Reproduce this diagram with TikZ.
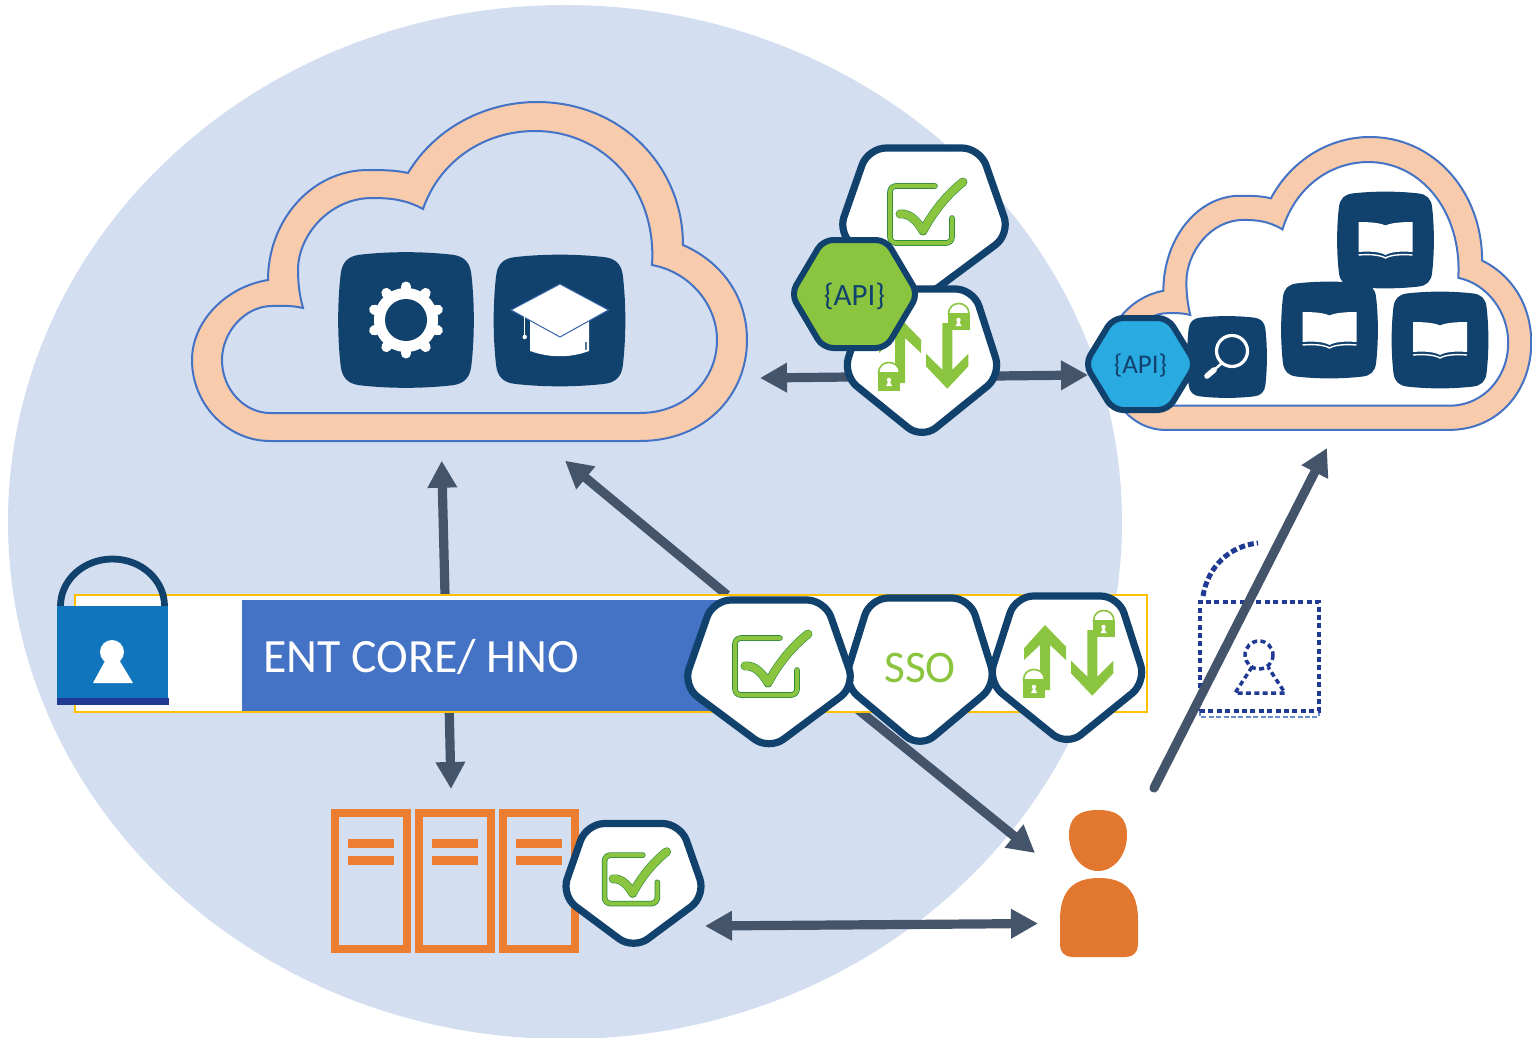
\documentclass[tikz,border=0pt]{standalone}
\usepackage{fontspec}
\setmainfont{Carlito}
\usetikzlibrary{arrows.meta,positioning}
\definecolor{discblue}{HTML}{D3DEF0}
\definecolor{navyline}{HTML}{11416D}
\definecolor{slateline}{HTML}{44546A}
\definecolor{bandpeach}{HTML}{F7CBAC}
\definecolor{bandblue}{HTML}{4472C4}
\definecolor{leafgreen}{HTML}{8BC53F}
\definecolor{leafdark}{HTML}{2E8B3E}
\definecolor{skyblue}{HTML}{29ABE2}
\definecolor{lockblue}{HTML}{1075BD}
\definecolor{deepblue}{HTML}{203A94}
\definecolor{amberline}{HTML}{FFC000}
\definecolor{rackorange}{HTML}{ED7D31}
\definecolor{userorange}{HTML}{E27730}
\tikzset{
  flowarrow/.style={
    draw=slateline,
    line width=4.6pt,
    -{Triangle[length=13.5pt,width=14pt]}
  },
  bothways/.style={
    draw=slateline,
    line width=4.6pt,
    {Triangle[length=13.5pt,width=14pt]}-{Triangle[length=13.5pt,width=14pt]}
  },
  corebar/.style={
    draw=amberline,
    fill=white,
    line width=1.4pt,
    minimum width=536pt,
    minimum height=58.5pt,
    inner sep=0pt
  },
  corefill/.style={
    fill=bandblue,
    minimum width=240pt,
    minimum height=55.5pt,
    inner sep=0pt
  },
  coretitle/.style={
    text=white,
    font=\fontsize{23.9}{28}\selectfont,
    inner sep=0pt
  },
  apilabel/.style={
    text=navyline,
    inner sep=0pt
  },
  ssolabel/.style={
    text=leafgreen,
    font=\fontsize{22.6}{26}\selectfont,
    inner sep=0pt
  },
  hexa/.style={
    draw=navyline,
    line width=3pt,
    rounded corners=5pt
  },
  dotted lock/.style={
    draw=deepblue,
    line width=1.75pt,
    dash pattern=on 2.5pt off 1.7pt
  },
  cloudband/.pic={
    \filldraw[fill=bandpeach,draw=bandblue,line width=1pt,even odd rule]
      (270,441) -- (640,441)
      .. controls (705,441) and (747,395) .. (747,340)
      .. controls (747,297) and (722,262) .. (683,245)
      .. controls (683,165) and (620,102) .. (537,102)
      .. controls (485,102) and (435,128) .. (408,173)
      .. controls (395,170) and (380,170) .. (368,170)
      .. controls (312,170) and (268,220) .. (268,280)
      .. controls (225,287) and (192,322) .. (192,360)
      .. controls (192,405) and (228,441) .. (270,441) -- cycle
      (270,413) -- (640,413)
      .. controls (685,413) and (717,380) .. (717,340)
      .. controls (717,305) and (690,272) .. (652,265)
      .. controls (657,190) and (605,131) .. (535,131)
      .. controls (485,131) and (440,160) .. (423,209)
      .. controls (405,199) and (388,198) .. (372,198)
      .. controls (330,198) and (298,235) .. (298,270)
      .. controls (298,285) and (300,297) .. (303,308)
      .. controls (290,305) and (280,306) .. (272,306)
      .. controls (245,306) and (222,332) .. (222,360)
      .. controls (222,390) and (245,413) .. (270,413) -- cycle;
  },
  tile/.pic={
    \fill[navyline] (-.68,-.96)
      .. controls (-.25,-1.01) and (.25,-1.01) .. (.68,-.96)
      .. controls (.85,-.94) and (.94,-.85) .. (.96,-.68)
      .. controls (1.01,-.25) and (1.01,.25) .. (.96,.68)
      .. controls (.94,.85) and (.85,.94) .. (.68,.96)
      .. controls (.25,1.01) and (-.25,1.01) .. (-.68,.96)
      .. controls (-.85,.94) and (-.94,.85) .. (-.96,.68)
      .. controls (-1.01,.25) and (-1.01,-.25) .. (-.96,-.68)
      .. controls (-.94,-.85) and (-.85,-.94) .. (-.68,-.96) -- cycle;
  },
  bookicon/.pic={
    \fill[white] (-27,-18) .. controls (-15,-18) and (-5,-17) .. (0,-14.5)
      .. controls (5,-17) and (15,-18) .. (27,-18) -- (27,12)
      .. controls (15,11) and (5,12) .. (0,15)
      .. controls (-5,12) and (-15,11) .. (-27,12) -- cycle;
    \draw[white,line width=.7pt] (-27,15) .. controls (-15,14) and (-5,15) .. (0,18)
      .. controls (5,15) and (15,14) .. (27,15);
  },
  badge/.pic={
    \filldraw[fill=white,draw=navyline,line width=3.6pt,rounded corners=9pt]
      (-56,-72) -- (56,-72) -- (86,14) -- (0,78) -- (-86,14) -- cycle;
  },
  checkicon/.pic={
    \draw[draw=leafdark,double=leafgreen,double distance=2pt,line width=.4pt,
          line cap=round,rounded corners=3pt]
      (11,-34) -- (-34,-34) -- (-34,23) -- (28,23) -- (28,-2);
    \draw[draw=leafdark,double=leafgreen,double distance=3.8pt,line width=.3pt,
          line cap=round,line join=round]
      (-24,-6) .. controls (-14,-7) and (-6,2) .. (-1,11)
      .. controls (10,-10) and (25,-27) .. (39,-38);
  },
  lockarrows/.pic={
    \fill[leafgreen] (-22,-43) -- (-1,-21.3) -- (-1,-8) -- (-17,-23) -- (-17,22)
      -- (-27,22) -- (-27,-23) -- (-43,-8) -- (-43,-19.7) -- cycle;
    \fill[leafgreen] (25.3,27.7) -- (46.3,5.3) -- (46.3,-7.3) -- (30.3,8.7)
      -- (30.3,-38) -- (20.3,-38) -- (20.3,8.7) -- (4,-7.3) -- (4,5.3) -- cycle;
    % --- the two small locks ---
    \filldraw[fill=white,draw=leafgreen,line width=.8pt]
      (-43.5,12) .. controls (-43.5,-2) and (-22.5,-2) .. (-22.5,12) -- cycle;
    \fill[leafgreen] (-44.5,12) rectangle (-22,29.5);
    \fill[white] (-33,19) circle[radius=2.2];
    \fill[white] (-36,25) -- (-30,25) -- (-33,19) -- cycle;
    \filldraw[fill=white,draw=leafgreen,line width=.8pt]
      (26.5,-47) .. controls (26.5,-61) and (47,-61) .. (47,-47) -- cycle;
    \fill[leafgreen] (25.7,-47.3) rectangle (47.5,-30.7);
    \fill[white] (36.5,-41) circle[radius=2.2];
    \fill[white] (33.5,-35) -- (39.5,-35) -- (36.5,-41) -- cycle;
  },
  rackbox/.pic={
    \draw[rackorange,line width=4pt] (-36,-68) rectangle (36,68);
    \fill[rackorange] (-23,-42) rectangle (23,-33);
    \fill[rackorange] (-23,-25) rectangle (23,-16);
  }
}

\begin{document}
\begin{tikzpicture}[x=.5pt,y=-.5pt]
\useasboundingbox (0,0) rectangle (1532,1038);

\fill[discblue] (565,522) circle[x radius=557,y radius=517];

% --- clouds ---
\pic (bigcloud) at (0,0) {cloudband};
\pic[shift={(1105,137)},xscale=.768,yscale=.864,shift={(-192,-102)}] (smallcloud) at (0,0) {cloudband};

% --- tiles in the big cloud ---
\pic[scale=68] (geartile) at (406,320) {tile};
\fill[white] (406,320) circle[radius=32];
\foreach \ang in {90,126,162,198,234,270,306,342,378,414}
  \draw[white,line width=5pt,line cap=round] (406,320) ++(\ang:28) -- ++(\ang:5.5);
\fill[navyline] (406,320) circle[radius=21];

\pic[scale=66] (captile) at (559.5,320.5) {tile};
\fill[white] (530,315) -- (589,315) -- (589,351)
  .. controls (570,358) and (550,358) .. (530,351) -- cycle;
\filldraw[fill=white,draw=bandblue!70!navyline,line width=.5pt]
  (560,284) -- (608.5,310) -- (560,337) -- (511,310) -- cycle;
\draw[white,line width=.7pt] (524.7,316) -- (524.7,336);
\fill[white] (524.7,337) circle[radius=2.2];
\draw[navyline!70,line width=.7pt] (586,342) -- (586,350);

% --- tiles in the small cloud ---
\pic[scale=48.5] (booktop) at (1385.5,240) {tile};
\pic[scale=48.5] (bookmid) at (1329.5,330) {tile};
\pic[scale=48.5] (bookright) at (1440,340) {tile};
\pic (booktopicon) at (1385.5,240) {bookicon};
\pic (bookmidicon) at (1329.5,330) {bookicon};
\pic (bookrighticon) at (1440,340) {bookicon};
\pic[xscale=40,yscale=41] (searchtile) at (1227,357) {tile};
\draw[white,line width=1.6pt] (1232,351) circle[radius=15.5];
\draw[white,line width=1.2pt] (1222,363) -- (1213,371);
\draw[white,line width=2.8pt,line cap=round] (1214,370) -- (1207,376);

% --- ends of the connectors ---
\coordinate (coretop) at (445,595);
\coordinate (bigcloudin) at (441.7,460.7);
\coordinate (corecorner) at (727,595);
\coordinate (bigclouddiag) at (565,460.7);
\coordinate (corebottom) at (449,700);
\coordinate (racktop) at (451,789);
\coordinate (apileft) at (850,377);
\coordinate (bigcloudright) at (760,378);
\coordinate (apiright) at (995,376);
\coordinate (smallcloudapi) at (1088,375);
\coordinate (ssolow) at (845,699);
\coordinate (userhead) at (1035,853);
\coordinate (userup) at (1154,788);
\coordinate (smallcloudin) at (1327,448);
\coordinate (storeright) at (705,926);
\coordinate (userbody) at (1038,923.5);

% --- open lock behind the connector ---
\draw[draw=bandblue!80!white,line width=.8pt,dash pattern=on 2.5pt off 1.2pt]
  (1200,711) -- (1200,717) -- (1319,717) -- (1319,711);
\node[dotted lock,minimum width=59.5pt,minimum height=54.5pt,inner sep=0pt] (openlock) at (1259.5,656.5) {};
\draw[draw=deepblue,line width=2.5pt,dash pattern=on 3pt off 1.5pt]
  (1203,596) .. controls (1208,566) and (1230,546) .. (1258,543);
\draw[dotted lock] (1259,655) circle[radius=14];
\draw[dotted lock] (1252,667) -- (1235,693) -- (1285,693) -- (1268,667);

\draw[flowarrow] (coretop) -- (bigcloudin);
\draw[flowarrow] (corecorner) -- (bigclouddiag);
\draw[flowarrow] (corebottom) -- (racktop);
\draw[flowarrow] (apileft) -- (bigcloudright);
\draw[flowarrow] (apiright) -- (smallcloudapi);
\draw[flowarrow] (ssolow) -- (userhead);
\draw[flowarrow,line cap=round] (userup) -- (smallcloudin);
\draw[bothways] (storeright) -- (userbody);

% --- core bar ---
\node[corebar] (core) at (611,653.5) {};
\node[corefill,anchor=west] (corearea) at (242,655) {};
\node[coretitle,right=10.5pt of corearea.west,yshift=-1pt] (coretext) {ENT CORE/ HNO};

% --- lock on the bar ---
\draw[navyline,line width=3.4pt] (60.5,606) arc[start angle=180,end angle=360,x radius=52,y radius=47];
\fill[lockblue] (57,606) rectangle (168,698);
\fill[deepblue] (57,698) rectangle (169,705);
\fill[white] (112,652) circle[radius=12];
\fill[white] (93,683) -- (133,683) -- (112,648) -- cycle;

% --- racks and their badge ---
\pic (rackone) at (371,881) {rackbox};
\pic (racktwo) at (455,881) {rackbox};
\pic (rackthree) at (539,881) {rackbox};
\pic[scale=.84] (storebadge) at (633.5,884) {badge};
\pic[scale=.85] (storecheck) at (633.5,884) {checkicon};

% --- user ---
\fill[userorange] (1098,810) .. controls (1118,810) and (1127,818) .. (1127,835)
  .. controls (1127,855) and (1114,871) .. (1098,871)
  .. controls (1082,871) and (1069,855) .. (1069,835)
  .. controls (1069,818) and (1078,810) .. (1098,810) -- cycle;
\fill[userorange] (1099,878) .. controls (1124,878) and (1138,890) .. (1138,920)
  -- (1138,945) .. controls (1138,952) and (1133,957) .. (1126,957) -- (1072,957)
  .. controls (1065,957) and (1060,952) .. (1060,945) -- (1060,920)
  .. controls (1060,890) and (1074,878) .. (1099,878) -- cycle;

% --- badges on the bar ---
\pic[xscale=.89] (ssobadge) at (920,670) {badge};
\node[ssolabel] (ssotext) at (920,668) {SSO};
\pic (corebadge) at (769,672) {badge};
\pic (corecheck) at (769,672) {checkicon};
\pic[xscale=.92] (guardbadge) at (1067,668) {badge};
\pic (guardicon) at (1067,668) {lockarrows};

% --- gateway group ---
\pic (gatecheckbadge) at (924,220) {badge};
\pic (gatecheck) at (924,220) {checkicon};
\pic[xscale=.92] (gateguardbadge) at (922,361) {badge};
\pic (gateguard) at (922,361) {lockarrows};
\filldraw[hexa,fill=leafgreen] (791,294) -- (823,240) -- (886,240) -- (918,294) -- (886,348) -- (823,348) -- cycle;
\node[apilabel,font=\fontsize{15.5}{18}\selectfont] (apigreen) at (854.5,296) {\{API\}};

\filldraw[hexa,fill=skyblue] (1085,364) -- (1113,318) -- (1168,318) -- (1196,364) -- (1168,410) -- (1113,410) -- cycle;
\node[apilabel,font=\fontsize{13.5}{16}\selectfont] (apiblue) at (1140.5,366) {\{API\}};

\end{tikzpicture}
\end{document}
